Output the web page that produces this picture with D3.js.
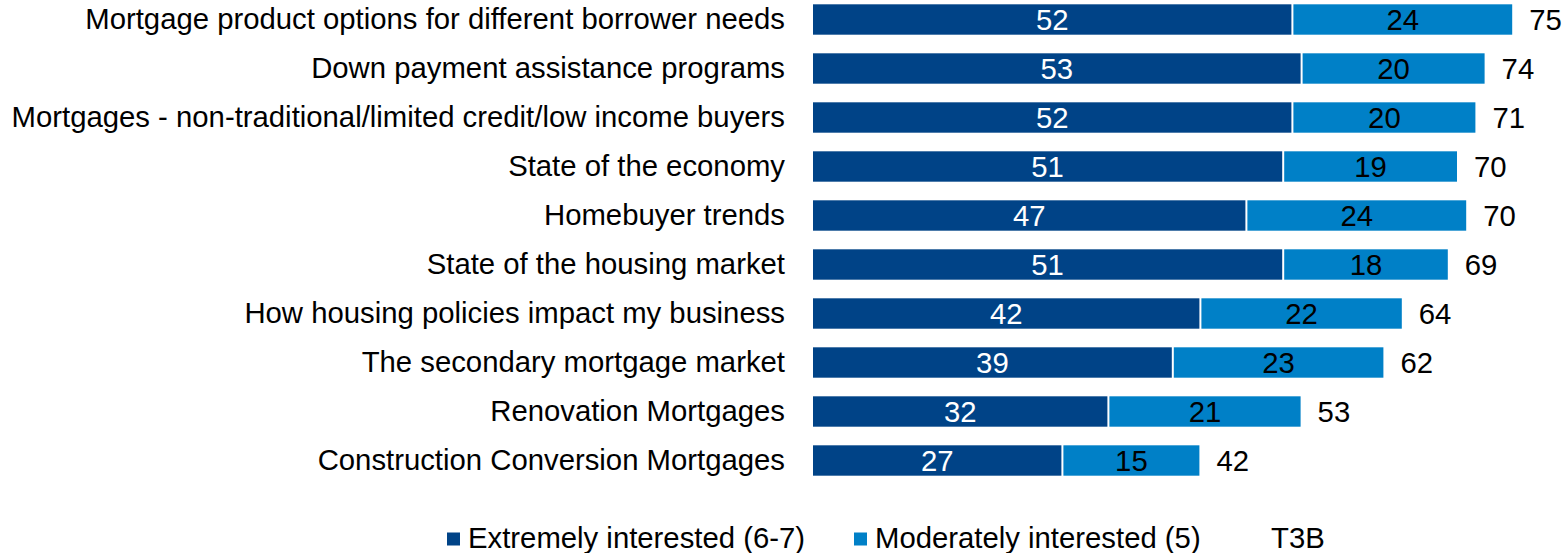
<!DOCTYPE html>
<html>
<head>
<meta charset="utf-8">
<script src="https://cdn.jsdelivr.net/npm/d3@7"></script>
<style>
  html, body { margin: 0; padding: 0; background: #ffffff; }
  svg { display: block; font-family: "Liberation Sans", Arial, sans-serif; }
</style>
</head>
<body>
<svg id="chart" width="1567" height="553"></svg>
<script>
const categories = [
  "Mortgage product options for different borrower needs",
  "Down payment assistance programs",
  "Mortgages - non-traditional/limited credit/low income buyers",
  "State of the economy",
  "Homebuyer trends",
  "State of the housing market",
  "How housing policies impact my business",
  "The secondary mortgage market",
  "Renovation Mortgages",
  "Construction Conversion Mortgages"
];
const extremely = [52, 53, 52, 51, 47, 51, 42, 39, 32, 27];
const moderately = [24, 20, 20, 19, 24, 18, 22, 23, 21, 15];
const t3b = [75, 74, 71, 70, 70, 69, 64, 62, 53, 42];
const legendLabels = ["Extremely interested (6-7)", "Moderately interested (5)", "T3B"];

const colors = { ext: "#004387", mod: "#0080C7" };
const fontSize = 29.3;

const svg = d3.select("#chart");

const x = d3.scaleLinear().domain([0, 100]).range([813, 813 + 920]);
const y = d3.scaleBand().domain(categories).range([-5, 485]).paddingInner(0.38).paddingOuter(0.19);

const rows = svg.selectAll("g.row").data(categories.map((c, i) => ({
  c, e: extremely[i], m: moderately[i], t: t3b[i]
}))).join("g").attr("class", "row");

// category labels
rows.append("text")
  .attr("x", 785)
  .attr("y", d => y(d.c) + y.bandwidth() / 2 + 9.5)
  .attr("text-anchor", "end")
  .attr("font-size", fontSize)
  .attr("fill", "#000")
  .text(d => d.c);

// extremely segment
rows.append("rect")
  .attr("x", x(0))
  .attr("y", d => y(d.c))
  .attr("width", d => x(d.e) - x(0))
  .attr("height", y.bandwidth())
  .attr("fill", colors.ext);

// moderately segment
rows.append("rect")
  .attr("x", d => x(d.e) + 2)
  .attr("y", d => y(d.c))
  .attr("width", d => x(d.e + d.m) - x(d.e) - 2)
  .attr("height", y.bandwidth())
  .attr("fill", colors.mod);

// value labels
rows.append("text")
  .attr("x", d => (x(0) + x(d.e)) / 2)
  .attr("y", d => y(d.c) + y.bandwidth() / 2 + 10.5)
  .attr("text-anchor", "middle")
  .attr("font-size", fontSize)
  .attr("fill", "#ffffff")
  .text(d => d.e);

rows.append("text")
  .attr("x", d => (x(d.e) + x(d.e + d.m)) / 2 + 1)
  .attr("y", d => y(d.c) + y.bandwidth() / 2 + 10.5)
  .attr("text-anchor", "middle")
  .attr("font-size", fontSize)
  .attr("fill", "#000")
  .text(d => d.m);

rows.append("text")
  .attr("x", d => x(d.e + d.m) + 17)
  .attr("y", d => y(d.c) + y.bandwidth() / 2 + 10.5)
  .attr("text-anchor", "start")
  .attr("font-size", fontSize)
  .attr("fill", "#000")
  .text(d => d.t);

// legend
const legendX = [447, 854, 1258];
const legendColors = [colors.ext, colors.mod, "none"];
const lg = svg.selectAll("g.leg").data(legendLabels).join("g").attr("class", "leg")
  .attr("transform", (d, i) => `translate(${legendX[i]},539)`);
lg.append("rect")
  .attr("x", 0).attr("y", -6.5).attr("width", 13).attr("height", 13)
  .attr("fill", (d, i) => legendColors[i]);
lg.append("text")
  .attr("x", (d, i) => i === 2 ? 13 : 21)
  .attr("y", 9)
  .attr("font-size", fontSize)
  .attr("fill", "#000")
  .text(d => d);
</script>
</body>
</html>
